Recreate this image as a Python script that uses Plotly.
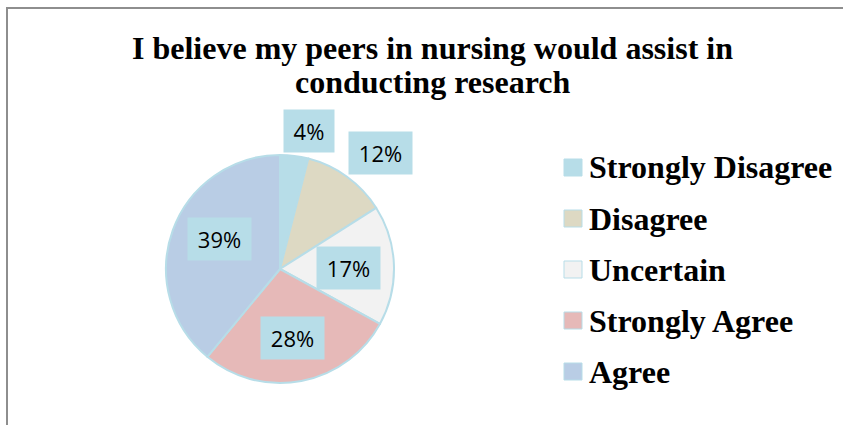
import math
import plotly.graph_objects as go

W, H = 843, 425

# Survey responses (percent of respondents)
categories = ["Strongly Disagree", "Disagree", "Uncertain", "Strongly Agree", "Agree"]
percents = [4, 12, 17, 28, 39]
colors = ["#B7DDE8", "#DDD9C3", "#F2F2F2", "#E6B9B8", "#B9CDE5"]

title_lines = ["I believe my peers in nursing would assist in", "conducting research"]

# pie geometry in pixels
cx, cy, R = 280, 269, 114

# data-label placement: radial factor and small angular nudge (degrees)
label_r = [1.24, 1.35, 0.60, 0.62, 0.59]
label_turn = [4.7, 5.0, 1.0, 0.3, 6.8]


def px(x):
    return x / W


def py(y):
    return 1 - y / H


fig = go.Figure()
fig.add_trace(go.Pie(
    labels=categories,
    values=percents,
    sort=False,
    direction="clockwise",
    rotation=0,
    textinfo="none",
    hoverinfo="label+percent",
    marker=dict(colors=colors, line=dict(color="#B7DDE8", width=2)),
    domain=dict(x=[px(cx - R), px(cx + R)], y=[py(cy + R), py(cy - R)]),
    showlegend=False,
))

annotations = []
shapes = []

# title, two tightly spaced lines
for i, line in enumerate(title_lines):
    annotations.append(dict(
        x=px(432), y=py(48 + 34 * i), xref="paper", yref="paper",
        text=line, showarrow=False,
        font=dict(family="Liberation Serif", size=32, color="#000000", weight="bold"),
        xanchor="center", yanchor="middle",
    ))

# percent labels in filled boxes
total = sum(percents)
cum = 0
for i, v in enumerate(percents):
    mid = (cum + v / 2) / total * 360 + label_turn[i]
    cum += v
    r = R * label_r[i]
    lx = cx + r * math.sin(math.radians(mid))
    ly = cy - r * math.cos(math.radians(mid))
    txt = f"{round(v / total * 100)}%"
    annotations.append(dict(
        x=px(lx), y=py(ly), xref="paper", yref="paper",
        text=txt, showarrow=False,
        font=dict(family="Open Sans", size=22, color="#000000"),
        bgcolor="#B7DDE8", borderpad=6, width=13 * len(txt) + 12,
        xanchor="center", yanchor="middle",
    ))

# legend: colored squares with bold labels
leg_x, leg_y0, leg_step = 573, 167.5, 51
for i, name in enumerate(categories):
    yy = leg_y0 + i * leg_step
    shapes.append(dict(
        type="rect", xref="paper", yref="paper",
        x0=px(leg_x - 9), x1=px(leg_x + 9),
        y0=py(yy + 8.5), y1=py(yy - 8.5),
        fillcolor=colors[i], line=dict(color="#B7DDE8", width=1),
    ))
    annotations.append(dict(
        x=px(587), y=py(yy), xref="paper", yref="paper",
        text=name, showarrow=False,
        font=dict(family="Liberation Serif", size=32, color="#000000", weight="bold"),
        xanchor="left", yanchor="middle",
    ))

# chart frame (open to the right and bottom)
shapes.append(dict(
    type="rect", xref="paper", yref="paper",
    x0=px(7), y0=py(480), x1=px(900), y1=py(8),
    line=dict(color="#8E8E8E", width=2), fillcolor="rgba(0,0,0,0)",
))

fig.update_layout(
    width=W, height=H,
    margin=dict(l=0, r=0, t=0, b=0),
    paper_bgcolor="#FFFFFF",
    plot_bgcolor="#FFFFFF",
    annotations=annotations,
    shapes=shapes,
)

fig.write_html("out.html")
